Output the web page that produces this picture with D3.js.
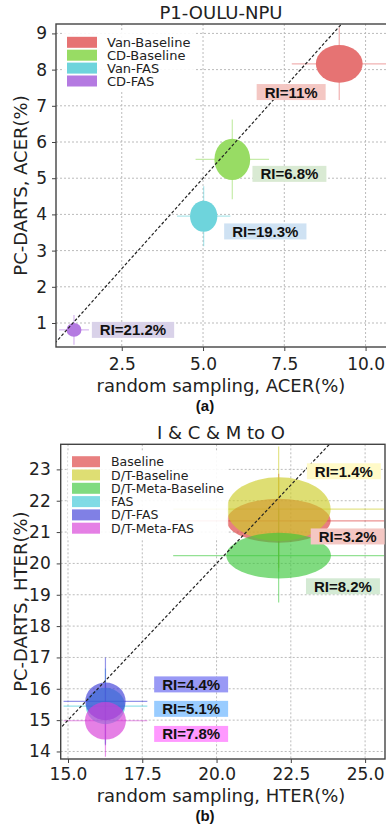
<!DOCTYPE html>
<html>
<head>
<meta charset="utf-8">
<script src="https://cdn.jsdelivr.net/npm/d3@7/dist/d3.min.js"></script>
<style>
  body { margin: 0; background: #fff; }
</style>
</head>
<body>
<div id="chart"></div>
<script>
// ---------- panel (a): P1-OULU-NPU ----------
const aSeries = ['Van-Baseline', 'CD-Baseline', 'Van-FAS', 'CD-FAS'];
const aMeanX = [9.19, 5.90, 5.02, 1.03];
const aMeanY = [8.16, 5.52, 3.95, 0.81];
const aStdX = [0.72, 0.55, 0.42, 0.23];
const aStdY = [0.52, 0.57, 0.43, 0.19];
const aErrX = [1.46, 1.13, 0.82, 0.46];
const aErrY = [1.0, 1.1, 0.83, 0.41];
const aRI = ['RI=11%', 'RI=6.8%', 'RI=19.3%', 'RI=21.2%'];
// where each RI note sits (data units: left edge, vertical centre)
const aNoteX = [6.65, 6.52, 5.65, 1.58];
const aNoteY = [7.38, 5.12, 3.53, 0.81];
const aXTicks = [2.5, 5.0, 7.5, 10.0];
const aYTicks = [1, 2, 3, 4, 5, 6, 7, 8, 9];

// ---------- panel (b): I & C & M to O ----------
const bSeries = ['Baseline', 'D/T-Baseline', 'D/T-Meta-Baseline', 'FAS', 'D/T-FAS', 'D/T-Meta-FAS'];
const bMeanX = [22.09, 22.09, 22.09, 16.26, 16.26, 16.26];
const bMeanY = [21.36, 21.73, 20.25, 15.45, 15.60, 14.98];
const bStdX = [1.75, 1.75, 1.76, 0.66, 0.68, 0.69];
const bStdY = [0.70, 1.02, 0.73, 0.58, 0.60, 0.60];
const bErrX = [3.55, 3.55, 3.55, 1.41, 1.41, 1.41];
const bErrY = [1.5, 2.0, 1.5, 1.2, 1.4, 1.15];
const bRI = ['RI=3.2%', 'RI=1.4%', 'RI=8.2%', 'RI=5.1%', 'RI=4.4%', 'RI=7.8%'];
const bNoteX = [23.17, 23.04, 23.01, 17.9, 17.9, 17.9];
const bNoteY = [20.86, 22.94, 19.27, 15.36, 16.14, 14.56];
const bXTicks = [15.0, 17.5, 20.0, 22.5, 25.0];
const bYTicks = [14, 15, 16, 17, 18, 19, 20, 21, 22, 23];

// styles
const aColors = ['#e67373', '#98dc64', '#6ed4dc', '#b47ae1'];
const aNoteColors = ['#f4c7c3', '#d9ead3', '#cfe2f3', '#d9d2e9'];
const bColors = ['#dc3c3c', '#cdcd28', '#3cc83c', '#3cc8d7', '#3c3cd7', '#d73cd7'];
const bNoteColors = ['#f4c7c3', '#fffac8', '#d4ead4', '#99ccff', '#9999f5', '#ff99ff'];

const W = 386, H = 829;
const FONT = '"DejaVu Sans", sans-serif';
const BOLD = '"Liberation Sans", Arial, sans-serif';

const svg = d3.select('#chart').append('svg')
  .attr('width', W)
  .attr('height', H)
  .style('font-family', FONT);

function drawPanel(p) {
  const x = d3.scaleLinear().domain(p.xDomain).range([p.box.left, p.box.right]);
  const y = d3.scaleLinear().domain(p.yDomain).range([p.box.bottom, p.box.top]);
  const g = svg.append('g');

  const clipId = 'clip-' + p.id;
  svg.append('clipPath').attr('id', clipId)
    .append('rect')
    .attr('x', p.box.left).attr('y', p.box.top)
    .attr('width', p.box.right - p.box.left)
    .attr('height', p.box.bottom - p.box.top);

  // grid
  const grid = g.append('g').attr('clip-path', `url(#${clipId})`);
  grid.selectAll('.gx').data(p.xTicks).enter().append('line')
    .attr('x1', d => x(d)).attr('x2', d => x(d))
    .attr('y1', p.box.top).attr('y2', p.box.bottom)
    .attr('stroke', '#bbb').attr('stroke-width', 1).attr('stroke-dasharray', '2,2');
  grid.selectAll('.gy').data(p.yTicks).enter().append('line')
    .attr('x1', p.box.left).attr('x2', p.box.right)
    .attr('y1', d => y(d)).attr('y2', d => y(d))
    .attr('stroke', '#bbb').attr('stroke-width', 1).attr('stroke-dasharray', '2,2');

  const idx = p.series.map((s, i) => i);
  const plot = g.append('g').attr('clip-path', `url(#${clipId})`);

  // error bars (thin cross)
  plot.selectAll('.ex').data(idx).enter().append('line')
    .attr('x1', i => x(p.mx[i] - p.ex[i])).attr('x2', i => x(p.mx[i] + p.ex[i]))
    .attr('y1', i => y(p.my[i])).attr('y2', i => y(p.my[i]))
    .attr('stroke', i => p.colors[i]).attr('stroke-opacity', 0.55).attr('stroke-width', 1.2);
  plot.selectAll('.ey').data(idx).enter().append('line')
    .attr('x1', i => x(p.mx[i])).attr('x2', i => x(p.mx[i]))
    .attr('y1', i => y(p.my[i] - p.ey[i])).attr('y2', i => y(p.my[i] + p.ey[i]))
    .attr('stroke', i => p.colors[i]).attr('stroke-opacity', 0.55).attr('stroke-width', 1.2);

  // ellipses: mean +- std
  plot.selectAll('ellipse').data(idx).enter().append('ellipse')
    .attr('cx', i => x(p.mx[i]))
    .attr('cy', i => y(p.my[i]))
    .attr('rx', i => x(p.mx[i] + p.sx[i]) - x(p.mx[i]))
    .attr('ry', i => y(p.my[i]) - y(p.my[i] + p.sy[i]))
    .attr('fill', i => p.colors[i])
    .attr('fill-opacity', p.alpha);

  // y = x reference line
  const lo = Math.min(p.xDomain[0], p.yDomain[0]);
  const hi = Math.max(p.xDomain[1], p.yDomain[1]);
  plot.append('line')
    .attr('x1', x(lo)).attr('y1', y(lo))
    .attr('x2', x(hi)).attr('y2', y(hi))
    .attr('stroke', '#222').attr('stroke-width', 1.2).attr('stroke-dasharray', '3,2');

  // axes
  const xAxis = g.append('g')
    .attr('transform', `translate(0,${p.box.bottom})`)
    .call(d3.axisBottom(x).tickValues(p.xTicks).tickFormat(d3.format('.1f')).tickSizeOuter(0).tickSize(4).tickPadding(p.xPad));
  const yAxis = g.append('g')
    .attr('transform', `translate(${p.box.left},0)`)
    .call(d3.axisLeft(y).tickValues(p.yTicks).tickFormat(d3.format('d')).tickSizeOuter(0).tickSize(4).tickPadding(p.yPad));
  [xAxis, yAxis].forEach(a => {
    a.select('.domain').remove();
    a.selectAll('.tick line').attr('stroke', '#444');
    a.selectAll('.tick text').attr('fill', '#222').style('font-size', '17px').style('font-family', FONT);
  });

  // spines
  g.append('rect')
    .attr('x', p.box.left).attr('y', p.box.top)
    .attr('width', p.box.right - p.box.left)
    .attr('height', p.box.bottom - p.box.top)
    .attr('fill', 'none').attr('stroke', '#444').attr('stroke-width', 1.4);

  // legend
  const leg = g.append('g');
  const legBg = leg.append('rect').attr('fill', '#fff').attr('fill-opacity', 0.9);
  const items = leg.selectAll('.item').data(idx).enter().append('g')
    .attr('transform', i => `translate(${p.legend.x},${p.legend.y + i * p.legend.step})`);
  items.append('rect')
    .attr('x', 0).attr('y', -p.legend.patchH / 2)
    .attr('width', p.legend.patchW).attr('height', p.legend.patchH)
    .attr('fill', i => p.colors[i]).attr('fill-opacity', p.alpha);
  items.append('text')
    .attr('x', p.legend.textX).attr('y', 0).attr('dy', '0.36em')
    .style('font-size', p.legend.font + 'px').attr('fill', '#222')
    .text(i => p.series[i]);
  const bb = leg.node().getBBox();
  legBg.attr('x', bb.x - 4).attr('y', bb.y - 3).attr('width', bb.width + 8).attr('height', bb.height + 6);

  // RI notes
  const notes = g.selectAll('.note').data(idx).enter().append('g')
    .attr('transform', i => `translate(${x(p.noteX[i])},${y(p.noteY[i])})`);
  notes.append('rect').attr('fill', i => p.noteColors[i]);
  notes.append('text')
    .attr('x', 8).attr('y', 5.5)
    .style('font-family', BOLD).style('font-weight', 'bold').style('font-size', '15px')
    .attr('fill', '#111')
    .text(i => p.notes[i]);
  notes.each(function () {
    const t = d3.select(this).select('text').node().getBBox();
    d3.select(this).select('rect')
      .attr('x', 0).attr('y', -8).attr('width', t.width + 16).attr('height', 16);
  });

  // titles and labels
  svg.append('text')
    .attr('x', p.titleX).attr('y', p.titleY)
    .attr('text-anchor', 'middle').style('font-size', '18px').attr('fill', '#222')
    .text(p.title);
  svg.append('text')
    .attr('x', p.titleX).attr('y', p.xLabelY)
    .attr('text-anchor', 'middle').style('font-size', '18px').attr('fill', '#222')
    .text(p.xLabel);
  svg.append('text')
    .attr('transform', `translate(27,${(p.box.top + p.box.bottom) / 2}) rotate(-90)`)
    .attr('text-anchor', 'middle').style('font-size', '18px').attr('fill', '#222')
    .text(p.yLabel);
  svg.append('text')
    .attr('x', p.tagX).attr('y', p.tagY)
    .attr('text-anchor', 'middle')
    .style('font-family', BOLD).style('font-weight', 'bold').style('font-size', '15px')
    .attr('fill', '#111')
    .text(p.tag);
}

drawPanel({
  id: 'a',
  box: { left: 56, right: 388, top: 24, bottom: 347 },
  xDomain: [0.477, 10.69],
  yDomain: [0.337, 9.26],
  xTicks: aXTicks, yTicks: aYTicks,
  xPad: 7, yPad: 5,
  series: aSeries, mx: aMeanX, my: aMeanY, sx: aStdX, sy: aStdY, ex: aErrX, ey: aErrY,
  colors: aColors, alpha: 1,
  notes: aRI, noteX: aNoteX, noteY: aNoteY, noteColors: aNoteColors,
  legend: { x: 67, y: 42.3, step: 12.9, patchW: 30, patchH: 11, textX: 40, font: 13 },
  title: 'P1-OULU-NPU', titleX: 221, titleY: 19,
  xLabel: 'random sampling, ACER(%)', xLabelY: 392,
  yLabel: 'PC-DARTS, ACER(%)',
  tag: '(a)', tagX: 205, tagY: 411
});

drawPanel({
  id: 'b',
  box: { left: 60.7, right: 385, top: 444.3, bottom: 759 },
  xDomain: [14.754, 25.67],
  yDomain: [13.76, 23.8],
  xTicks: bXTicks, yTicks: bYTicks,
  xPad: 5, yPad: 6,
  series: bSeries, mx: bMeanX, my: bMeanY, sx: bStdX, sy: bStdY, ex: bErrX, ey: bErrY,
  colors: bColors, alpha: 0.65,
  notes: bRI, noteX: bNoteX, noteY: bNoteY, noteColors: bNoteColors,
  legend: { x: 72, y: 461.7, step: 13.3, patchW: 28, patchH: 11, textX: 39, font: 12.5 },
  title: 'I & C & M to O', titleX: 221, titleY: 439,
  xLabel: 'random sampling, HTER(%)', xLabelY: 802,
  yLabel: 'PC-DARTS, HTER(%)',
  tag: '(b)', tagX: 205, tagY: 821
});
</script>
</body>
</html>
